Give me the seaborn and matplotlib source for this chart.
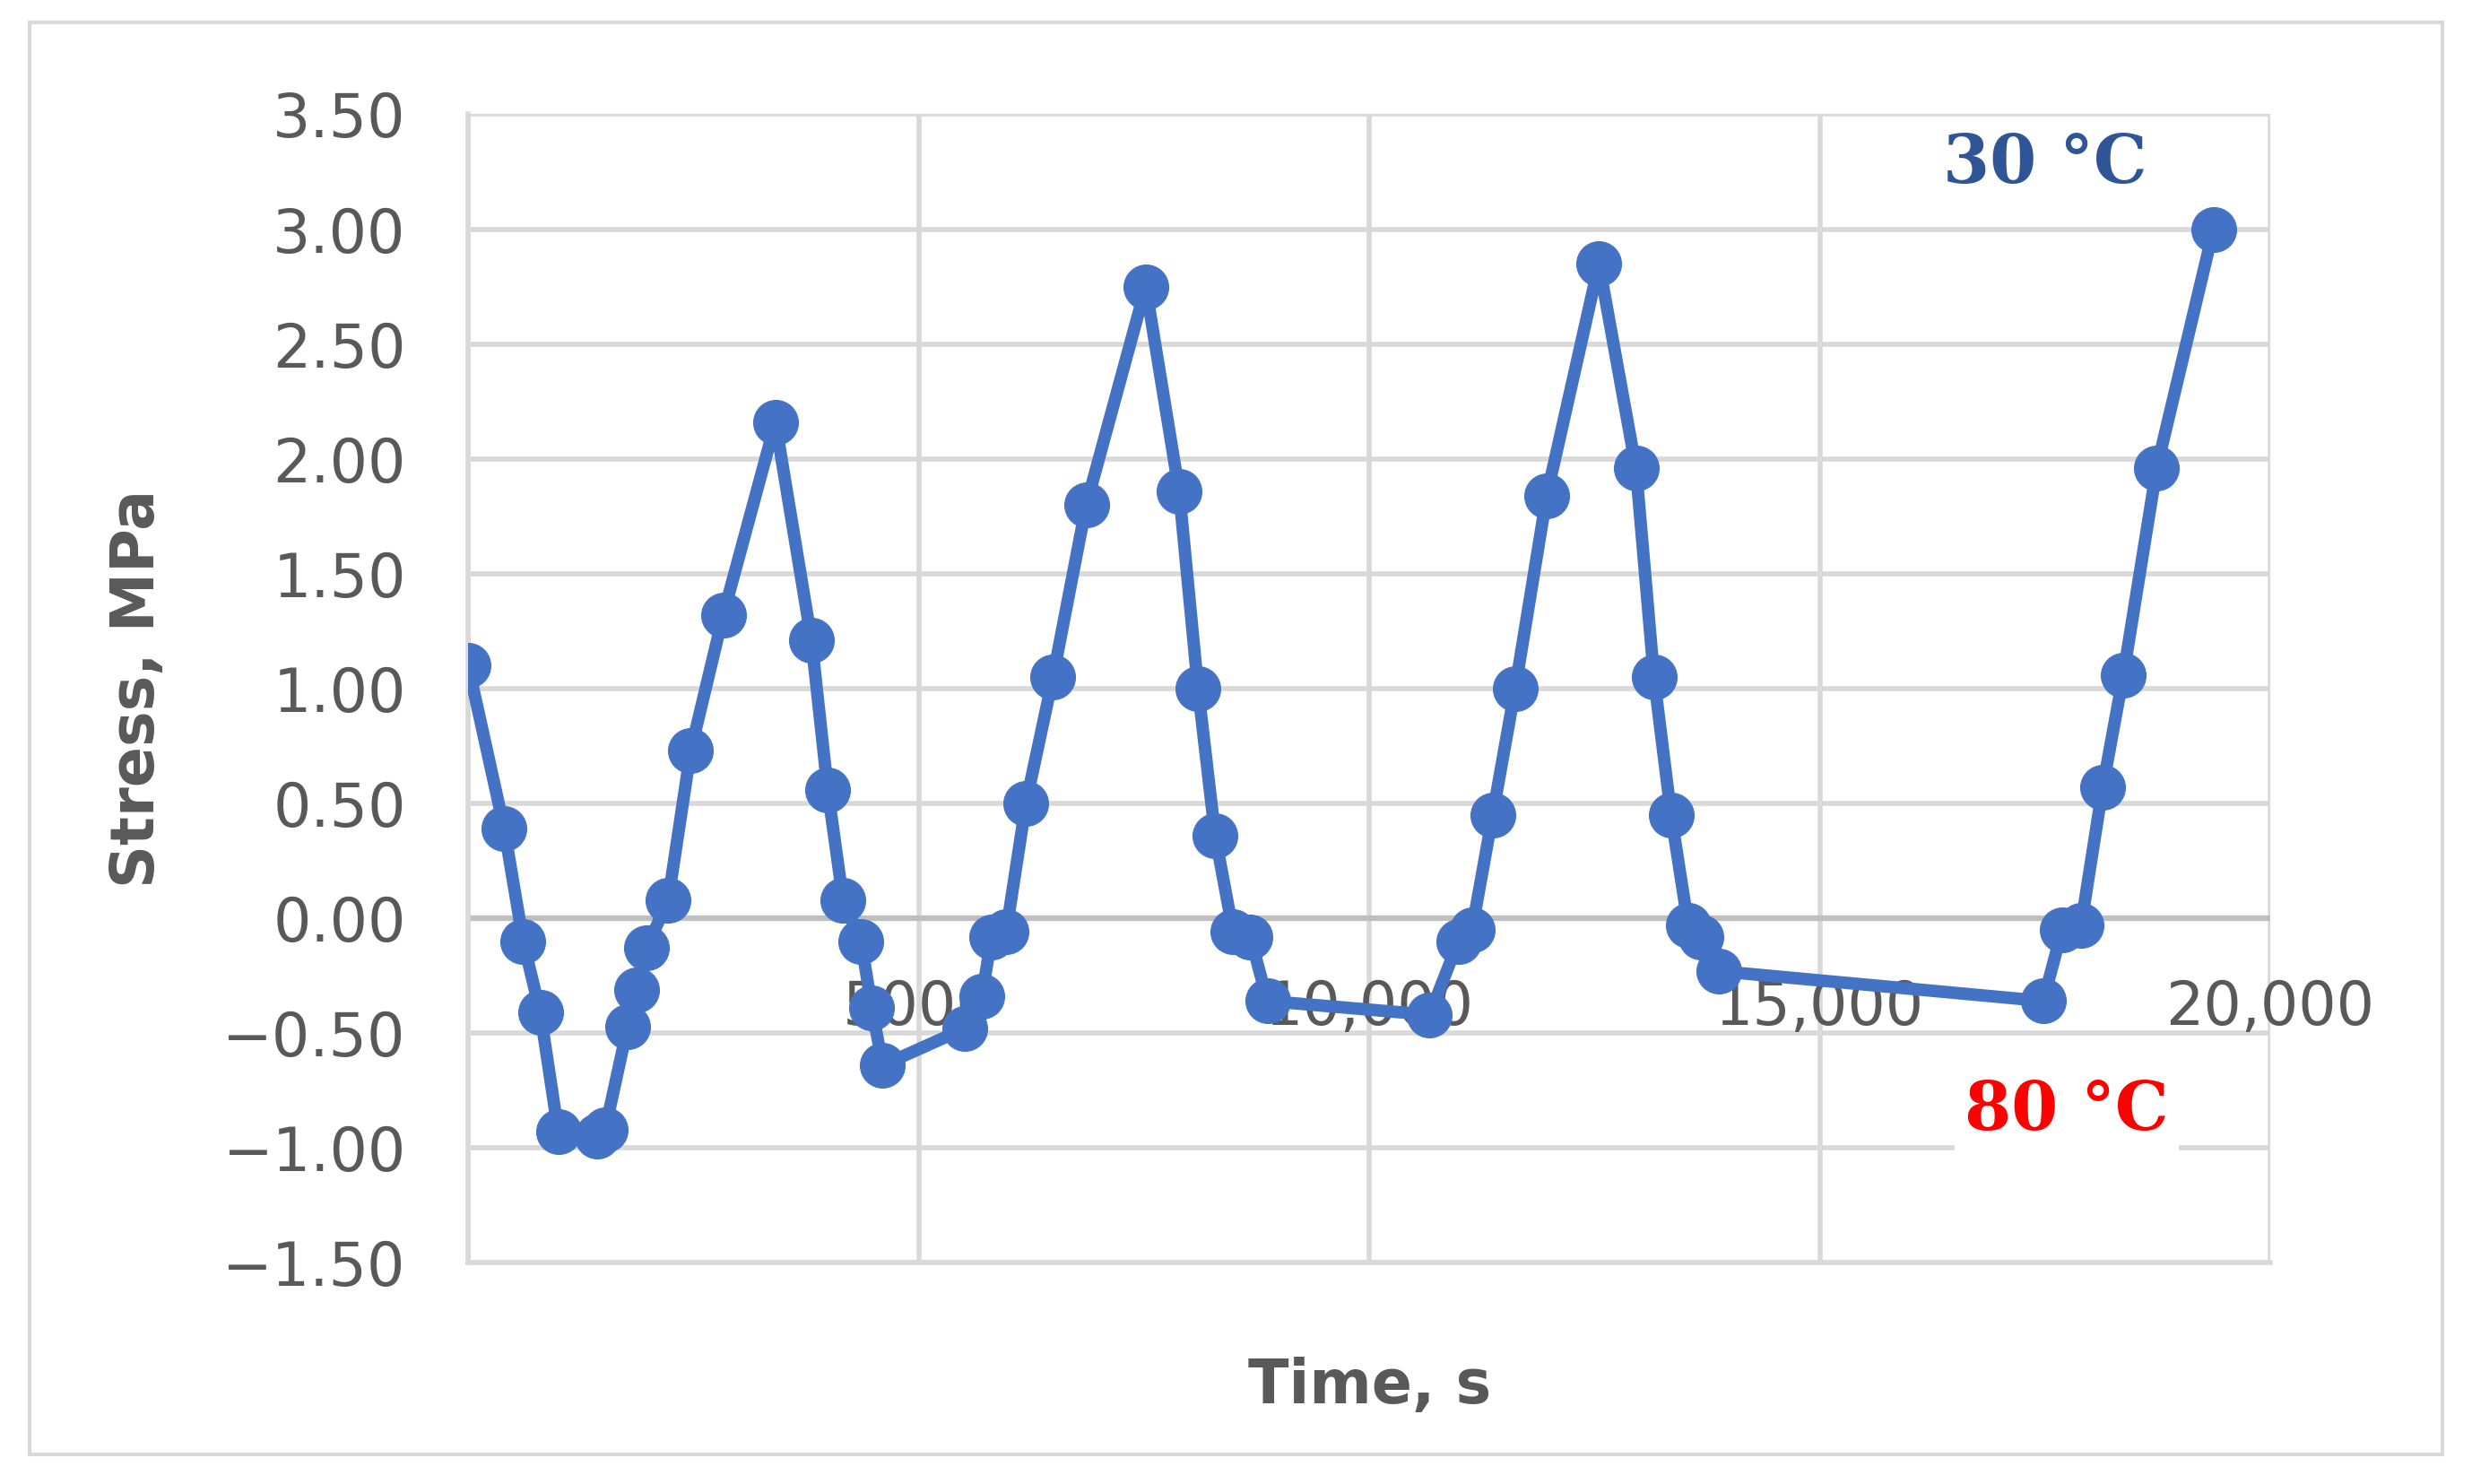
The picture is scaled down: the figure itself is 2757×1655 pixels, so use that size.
import matplotlib
matplotlib.use("Agg")
import matplotlib.pyplot as plt
import seaborn as sns
import pandas as pd
from matplotlib.ticker import FuncFormatter

time_s = [0, 400, 610, 800, 1000, 1430, 1520, 1770, 1870, 1980, 2220, 2470, 2830, 3410,
          3810, 3990, 4160, 4360, 4480, 4600, 5510, 5700, 5810, 5970, 6190, 6490, 6860,
          7520, 7890, 8100, 8290, 8490, 8680, 8870, 10670, 10990, 11140, 11370, 11620,
          11970, 12550, 12960, 13160, 13350, 13540, 13680, 13880, 17480, 17690, 17900,
          18140, 18370, 18740, 19370]
stress = [1.10, 0.39, -0.10, -0.41, -0.93, -0.95, -0.92, -0.47, -0.31, -0.13, 0.08, 0.73,
          1.32, 2.16, 1.21, 0.56, 0.08, -0.10, -0.39, -0.64, -0.48, -0.34, -0.08, -0.06,
          0.50, 1.05, 1.80, 2.75, 1.86, 1.00, 0.36, -0.06, -0.08, -0.36, -0.42, -0.10,
          -0.05, 0.45, 1.00, 1.84, 2.85, 1.96, 1.05, 0.45, -0.03, -0.08, -0.23, -0.36,
          -0.05, -0.03, 0.57, 1.06, 1.96, 3.00]
x_ticks = [5000, 10000, 15000, 20000]
x_labels = ["5000", "10,000", "15,000", "20,000"]

df = pd.DataFrame({"time": time_s, "stress": stress})
sns.set_style("white")
plt.rcParams["font.family"] = ["DejaVu Sans"]

fig = plt.figure(figsize=(27.57, 16.55), dpi=100)
ax = fig.add_axes([0.1894, 0.149, 0.7290, 0.774])
blue = "#4472C4"
sns.lineplot(data=df, x="time", y="stress", ax=ax, color=blue, lw=10, marker="o",
             markersize=36, markeredgecolor=blue, sort=False, zorder=3)

ax.set_xlim(0, 20000)
ax.set_ylim(-1.5, 3.5)
ax.set_yticks([-1.5 + 0.5 * i for i in range(11)])
ax.yaxis.set_major_formatter(FuncFormatter(lambda v, p: f"{v:.2f}".replace("-", "\u2212")))
ax.set_xticks([0] + x_ticks)
ax.grid(True, color="#D9D9D9", lw=4)
ax.axhline(0, color="#BFBFBF", lw=4.5, zorder=1)
for s in ["top", "right"]:
    ax.spines[s].set_visible(False)
for s in ["left", "bottom"]:
    ax.spines[s].set_color("#D9D9D9")
    ax.spines[s].set_linewidth(4)
ax.tick_params(axis="y", labelsize=48, colors="#595959", length=0, pad=50)
ax.tick_params(axis="x", length=0, labelbottom=False)
for xt, lab in zip(x_ticks, x_labels):
    ax.text(xt, -0.26, lab, ha="center", va="top", fontsize=48, color="#595959", zorder=2)

ax.set_xlabel("Time, s", fontsize=48, fontweight="bold", color="#595959", labelpad=75)
ax.set_ylabel("Stress, MPa", fontsize=48, fontweight="bold", color="#595959", labelpad=45)

ax.text(17500, 3.28, "30 °C", fontsize=54, fontweight="bold", color="#2F5597",
        family="DejaVu Serif", ha="center", va="center")
ax.text(17740, -0.84, "80 °C", fontsize=54, fontweight="bold", color="#FF0000",
        family="DejaVu Serif", ha="center", va="center",
        bbox=dict(fc="white", ec="none", pad=8))

fig.patches.append(plt.Rectangle((0.012, 0.02), 0.976, 0.965, transform=fig.transFigure,
                                 fill=False, ec="#D9D9D9", lw=3))
fig.savefig("out.png", dpi=100, facecolor="white")
